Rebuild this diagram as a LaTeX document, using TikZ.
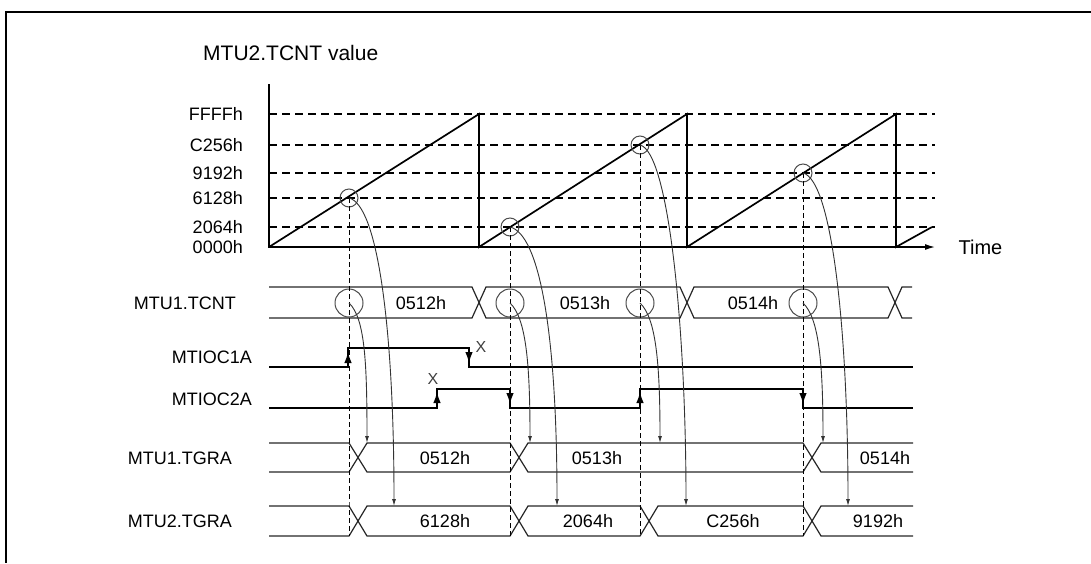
\documentclass[tikz,border=0pt]{standalone}
\usepackage{fontspec}
\setmainfont{Liberation Sans}
\usetikzlibrary{arrows.meta}

\begin{document}
\begin{tikzpicture}[x=1pt, y=-1pt,
    lbl/.style={inner sep=0pt, font=\fontsize{18}{20}\selectfont},
    levelline/.style={dash pattern=on 8pt off 5pt, line width=1.1pt},
    guideline/.style={dash pattern=on 5pt off 3pt, line width=1pt},
    ramp/.style={line width=1.7pt},
    busline/.style={line width=1.2pt, black!85},
    wave/.style={line width=2.4pt},
    edgetip/.style={-{Latex[length=11pt,width=7.5pt]}, line width=1.4pt},
    hitmark/.style={draw=black!70, line width=1pt},
    feed/.style={-{Latex[length=7pt,width=4pt]}, line width=0.9pt, black!80},
    xmark/.style={inner sep=0pt, black!75, font=\fontsize{16}{16}\selectfont}]
    \useasboundingbox (0,0) rectangle (1091,563);
    \draw[line width=2.5pt] (1091,12) -| (6,563);

    % counter value of MTU2
    \node[inner sep=0pt, anchor=west, font=\fontsize{21}{24}\selectfont] (title) at (203,53) {MTU2.TCNT value};
    \foreach \v/\y in {FFFFh/114, C256h/145, 9192h/173, 6128h/198, 2064h/227} {
        \draw[levelline] (269,\y) -- (935,\y);
        \node[lbl, anchor=east] (val\v) at (243,\y) {\v};
    }
    \node[lbl, anchor=east] (val0000h) at (243,247) {0000h};
    \draw[line width=1.3pt, -{Latex[length=10pt,width=6pt]}] (269,84) -- (269,247) -- (935,247) node[lbl, anchor=west, font=\fontsize{20}{22}\selectfont, xshift=23pt] (time) {Time};
    \draw[ramp] (269,247) -- (479,114) -- (479,247) -- (687,114) -- (687,247) -- (896,114) -- (896,247) -- (932,227);

    \coordinate (r1) at (349,198);
    \coordinate (r2) at (510,227);
    \coordinate (r3) at (640,145);
    \coordinate (r4) at (803,173);
    \coordinate (c1) at (349,303);
    \coordinate (c2) at (510,303);
    \coordinate (c3) at (640,303);
    \coordinate (c4) at (803,303);

    % row names
    \node[lbl, anchor=east] (tcnt1) at (236,303) {MTU1.TCNT};
    \node[lbl, anchor=east] (oc1a) at (252,357) {MTIOC1A};
    \node[lbl, anchor=east] (oc2a) at (252,399) {MTIOC2A};
    \node[lbl, anchor=east] (tgra1) at (232,458) {MTU1.TGRA};
    \node[lbl, anchor=east] (tgra2) at (232,521) {MTU2.TGRA};

    % MTU1.TCNT
    \draw[busline] (269,287) -- (472,287) -- (486,318) -- (680,318) -- (694,287) -- (888,287) -- (902,318) -- (912,318);
    \draw[busline] (269,318) -- (472,318) -- (486,287) -- (680,287) -- (694,318) -- (888,318) -- (902,287) -- (912,287);
    \node[lbl] (n0512) at (421,303) {0512h};
    \node[lbl] (n0513) at (585,303) {0513h};
    \node[lbl] (n0514) at (753,303) {0514h};

    % outputs
    \draw[wave] (269,367) -- (348,367) -- (348,348) -- (469,348) -- (469,367) -- (913,367);
    \draw[wave] (269,408) -- (437,408) -- (437,389) -- (510,389) -- (510,408) -- (640,408) -- (640,389) -- (803,389) -- (803,408) -- (913,408);
    \draw[edgetip] (348,367) -- (348,352);
    \draw[edgetip] (469,348) -- (469,363);
    \draw[edgetip] (437,408) -- (437,392);
    \draw[edgetip] (510,389) -- (510,404);
    \draw[edgetip] (640,408) -- (640,392);
    \draw[edgetip] (803,389) -- (803,404);
    \node[xmark] (x1a) at (481,347) {X};
    \node[xmark] (x2a) at (433,379) {X};

    % MTU1.TGRA
    \draw[busline] (269,443) -- (349,443) -- (367,472) -- (510,472) -- (528,443) -- (803,443) -- (821,472) -- (913,472);
    \draw[busline] (269,472) -- (349,472) -- (367,443) -- (510,443) -- (528,472) -- (803,472) -- (821,443) -- (913,443);
    \node[lbl] (g0512) at (445,458) {0512h};
    \node[lbl] (g0513) at (597,458) {0513h};
    \node[lbl] (g0514) at (885,458) {0514h};

    % MTU2.TGRA
    \draw[busline] (269,506) -- (349,506) -- (367,536) -- (510,536) -- (528,506) -- (640,506) -- (658,536) -- (803,536) -- (821,506) -- (913,506);
    \draw[busline] (269,536) -- (349,536) -- (367,506) -- (510,506) -- (528,536) -- (640,536) -- (658,506) -- (803,506) -- (821,536) -- (913,536);
    \node[lbl] (h6128) at (445,521) {6128h};
    \node[lbl] (h2064) at (588,521) {2064h};
    \node[lbl] (hC256) at (733,521) {C256h};
    \node[lbl] (h9192) at (878,521) {9192h};

    % capture points
    \coordinate (t1) at (367,443);
    \coordinate (t2) at (530,443);
    \coordinate (t3) at (660,443);
    \coordinate (t4) at (823,443);
    \coordinate (u1) at (394,506);
    \coordinate (u2) at (557,506);
    \coordinate (u3) at (686,506);
    \coordinate (u4) at (848,506);
    \foreach \i in {1,2,3,4} {
        \draw[hitmark] (r\i) circle[radius=9];
        \draw[hitmark] (c\i) circle[radius=14];
        \draw[guideline] (r\i) -- (r\i |- u1) -- ++(0,30);
        \draw[feed] (r\i) .. controls +(29,7) and +(0,-176) .. (u\i);
        \draw[feed] (c\i) .. controls +(16,15) and +(0,-80) .. (t\i);
    }
\end{tikzpicture}
\end{document}
